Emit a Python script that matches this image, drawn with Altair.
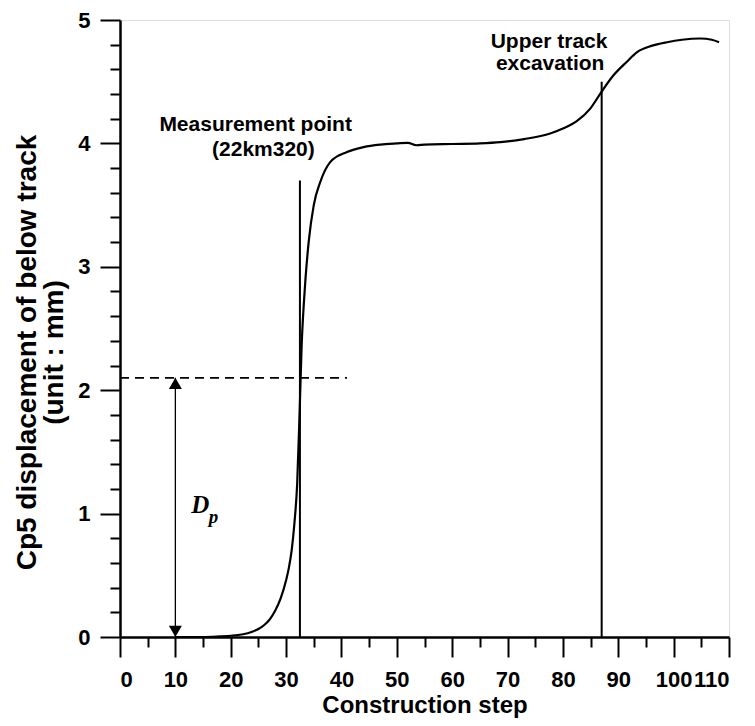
import altair as alt
import pandas as pd

# Curve
step = [10, 15, 18, 20, 22, 24, 25, 26, 27, 28, 29, 30, 30.5, 31, 31.5, 32.0, 32.45,
        32.8, 33.2, 33.5, 34.1, 35.0, 36.2, 38.0, 41.0, 44, 47.0, 50, 52, 53.5, 55,
        60, 65, 68.7, 73, 77.7, 80, 82.5, 84.9, 87.0, 89.1, 91.5, 93.4, 96, 98.8,
        101.5, 104.8, 106.9, 108.2]
disp = [0, 0, 0.005, 0.01, 0.02, 0.045, 0.065, 0.095, 0.14, 0.21, 0.31, 0.46, 0.56,
        0.7, 0.92, 1.24, 1.83, 2.35, 2.7, 2.9, 3.21, 3.50, 3.69, 3.85, 3.93, 3.97,
        3.99, 4.0, 4.005, 3.985, 3.99, 3.995, 4.0, 4.01, 4.035, 4.08, 4.12, 4.18,
        4.28, 4.42, 4.55, 4.66, 4.74, 4.79, 4.82, 4.84, 4.85, 4.84, 4.82]

# Event markers (vertical lines)
event_x = [32.5, 87]
event_top = [3.7, 4.5]

# Dp reference
dp_level = 2.1
dp_x = 10
dash_end = 41

x_ticks = list(range(0, 111, 5))
y_ticks = [round(i * 0.2, 1) for i in range(26)]
y_major_vals = [0, 1, 2, 3, 4, 5]

labels = ["Measurement point", "(22km320)", "Upper track", "excavation"]
label_x = [24.5, 25.9, 77.5, 77.7]
label_y = [4.15, 3.95, 4.82, 4.64]

FONT = "Liberation Sans"

curve = pd.DataFrame({"x": step, "y": disp})
events = pd.DataFrame({"x": event_x, "y0": [0] * len(event_x), "y1": event_top})
dash = pd.DataFrame({"x0": [0], "x1": [dash_end], "y": [dp_level]})
arrow = pd.DataFrame({"x": [dp_x], "y0": [0], "y1": [dp_level]})
tips_up = pd.DataFrame({"x": [dp_x], "y": [dp_level]})
tips_dn = pd.DataFrame({"x": [dp_x], "y": [0]})
texts = pd.DataFrame({"x": label_x, "y": label_y, "t": labels})
dtext = pd.DataFrame({"x": [14.5], "y": [1.07], "t": ["D"]})
ptext = pd.DataFrame({"x": [16.9], "y": [0.97], "t": ["p"]})

xs = alt.Scale(domain=[0, 110], nice=False, zero=False)
ys = alt.Scale(domain=[0, 5], nice=False, zero=False)

x_major = "datum.value % 10 === 0"
y_major = "indexof(" + str(y_major_vals) + ", datum.value) >= 0"

xaxis = alt.Axis(values=x_ticks, tickCount=200,
                 tickSize={"condition": {"test": x_major, "value": 20}, "value": 10},
                 tickWidth=2, tickColor="black",
                 labelExpr=f"{x_major} ? format(datum.value, 'd') : ''",
                 labelOverlap=False,
                 labelFontSize={"condition": {"test": x_major, "value": 22}, "value": 1},
                 domainColor="black", domainWidth=2.5, labelFont=FONT,
                 labelFontWeight="bold", labelColor="black", labelPadding=12,
                 title="Construction step", titleFont=FONT, titleFontSize=24,
                 titleFontWeight="bold", titleColor="black", titleBaseline="middle",
                 titleY=68, grid=False, orient="bottom")
yaxis = alt.Axis(values=y_ticks, tickCount=200,
                 tickSize={"condition": {"test": y_major, "value": 20}, "value": 10},
                 tickWidth=2, tickColor="black",
                 labelExpr=f"{y_major} ? format(datum.value, 'd') : ''",
                 labelOverlap=False,
                 labelFontSize={"condition": {"test": y_major, "value": 22}, "value": 1},
                 domainColor="black", domainWidth=2.5, labelFont=FONT,
                 labelFontWeight="bold", labelColor="black", labelPadding=10,
                 title=["Cp5 displacement of below track", "(unit : mm)"],
                 titleFont=FONT, titleFontSize=28, titleFontWeight="bold",
                 titleColor="black", titleLineHeight=27, titleAngle=270,
                 titleBaseline="top", titleAlign="center", titleX=-107, titleY=332,
                 grid=False, orient="left")

base_line = alt.Chart(curve).mark_line(color="black", strokeWidth=2.2,
                                       interpolate="monotone").encode(
    x=alt.X("x:Q", scale=xs, axis=xaxis),
    y=alt.Y("y:Q", scale=ys, axis=yaxis),
)

ev = alt.Chart(events).mark_rule(color="black", strokeWidth=2).encode(
    x=alt.X("x:Q", scale=xs),
    y=alt.Y("y0:Q", scale=ys), y2="y1:Q")

dl = alt.Chart(dash).mark_rule(color="black", strokeWidth=1.6, strokeDash=[9, 6]).encode(
    x=alt.X("x0:Q", scale=xs), x2="x1:Q",
    y=alt.Y("y:Q", scale=ys))

ar = alt.Chart(arrow).mark_rule(color="black", strokeWidth=1.3).encode(
    x=alt.X("x:Q", scale=xs),
    y=alt.Y("y0:Q", scale=ys), y2="y1:Q")

tu = alt.Chart(tips_up).mark_point(shape="triangle-up", filled=True, color="black",
                                    size=169, opacity=1, yOffset=5.6).encode(
    x=alt.X("x:Q", scale=xs), y=alt.Y("y:Q", scale=ys))
td = alt.Chart(tips_dn).mark_point(shape="triangle-down", filled=True, color="black",
                                    size=169, opacity=1, yOffset=-5.6).encode(
    x=alt.X("x:Q", scale=xs), y=alt.Y("y:Q", scale=ys))

tx = alt.Chart(texts).mark_text(font=FONT, fontSize=21, fontWeight="bold", color="black",
                                align="center", baseline="middle").encode(
    x=alt.X("x:Q", scale=xs), y=alt.Y("y:Q", scale=ys), text="t:N")

dt = alt.Chart(dtext).mark_text(font="Liberation Serif", fontSize=25, fontWeight="bold",
                                fontStyle="italic", color="black", align="center",
                                baseline="middle").encode(
    x=alt.X("x:Q", scale=xs), y=alt.Y("y:Q", scale=ys), text="t:N")
pt = alt.Chart(ptext).mark_text(font="Liberation Serif", fontSize=19, fontWeight="bold",
                                fontStyle="italic", color="black", align="center",
                                baseline="middle").encode(
    x=alt.X("x:Q", scale=xs), y=alt.Y("y:Q", scale=ys), text="t:N")

chart = alt.layer(base_line, ev, dl, ar, tu, td, tx, dt, pt).properties(
    width=609, height=617,
    padding={"left": 112, "top": 12, "right": 10, "bottom": 81},
    autosize=alt.AutoSizeParams(type="none"),
).configure_view(stroke="black", strokeWidth=2).configure(background="white")

chart.save("out.html", embed_options={"renderer": "svg", "actions": False})
